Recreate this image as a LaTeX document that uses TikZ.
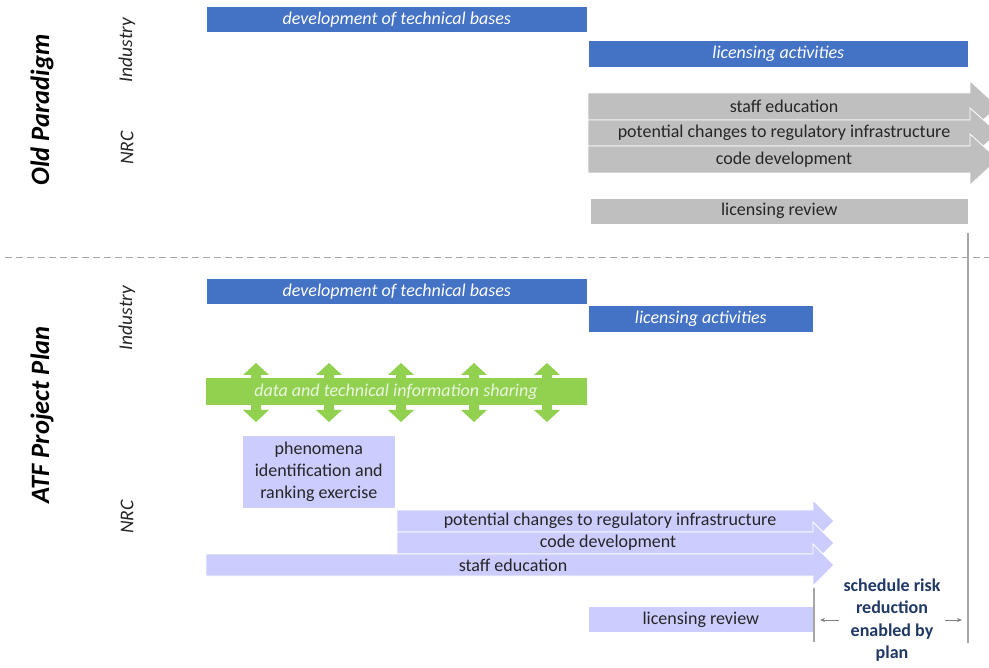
\documentclass[tikz,border=0pt]{standalone}
\usepackage{fontspec}
\setmainfont{Carlito}
\usetikzlibrary{arrows.meta}
\definecolor{bbar}{HTML}{4472C4}
\definecolor{gbar}{HTML}{BFBFBF}
\definecolor{grn}{HTML}{92D050}
\definecolor{lav}{HTML}{CCCCFF}
\definecolor{txt}{HTML}{262626}
\definecolor{navy}{HTML}{1F3864}
\definecolor{vline}{HTML}{A6A6A6}
\definecolor{gtxt}{HTML}{EAF5E0}
\begin{document}
\begin{tikzpicture}[x=1pt,y=-1pt,
  barfont/.style={font=\fontsize{18}{21}\selectfont},
  bluebar/.style={fill=bbar, draw=white, line width=0.6pt, text=white, font=\fontsize{18}{21}\selectfont\itshape, inner sep=0pt, anchor=north west},
  graybar/.style={barfont, fill=gbar, draw=white, line width=0.6pt, text=txt, inner sep=0pt, anchor=north west},
  lavbar/.style={barfont, fill=lav, draw=white, line width=0.6pt, text=txt, inner sep=0pt, anchor=north west},
  garrow/.style={fill=gbar, draw=white, line width=0.8pt},
  larrow/.style={fill=lav, draw=white, line width=0.8pt},
  arrtxt/.style={barfont, text=txt, inner sep=0pt},
  title/.style={rotate=90, font=\fontsize{26.5}{30}\selectfont\bfseries\itshape, text=black},
  lane/.style={rotate=90, font=\fontsize{19.5}{23}\selectfont\itshape, text=txt},
  sepline/.style={vline, line width=1.4pt}
]
\useasboundingbox (0,0) rectangle (989,668);
\clip (0,0) rectangle (989,668);

% ---------- Old paradigm ----------
\node[title] (oldt) at (42,110) {Old Paradigm};
\node[lane] (oind) at (127,50) {Industry};
\node[lane] (onrc) at (127,148) {NRC};

\node[bluebar, minimum width=381pt, minimum height=26pt] (odev) at (206,6) {development of technical bases};
\node[bluebar, minimum width=380pt, minimum height=27pt] (olic) at (588,40) {licensing activities};

\fill[garrow] (588,93) -- (970,93) -- (970,81) -- (998,106.5) -- (970,132) -- (970,120) -- (588,120) -- cycle;
\node[arrtxt] (ostaff) at (784,106.5) {staff education};
\fill[garrow] (588,120) -- (970,120) -- (970,108) -- (998,133) -- (970,158) -- (970,146) -- (588,146) -- cycle;
\node[arrtxt] (opot) at (784,133) {potential changes to regulatory infrastructure};
\fill[garrow] (588,146) -- (970,146) -- (970,134) -- (998,159.5) -- (970,185) -- (970,173) -- (588,173) -- cycle;
\node[arrtxt] (ocode) at (784,159.5) {code development};

\node[graybar, minimum width=378pt, minimum height=26pt] (orev) at (590,198) {licensing review};

% separator and timeline
\draw[vline, line width=1pt, dash pattern=on 7pt off 4pt] (5,258) -- (989,258);
\coordinate (vt) at (968,233);
\coordinate (vb) at (968,643);
\draw[sepline] (vt) -- (vb);

% ---------- ATF project plan ----------
\node[title] (atft) at (42,415) {ATF Project Plan};
\node[lane] (aind) at (127,318) {Industry};
\node[lane] (anrc) at (127,517) {NRC};

\node[bluebar, minimum width=381pt, minimum height=26pt] (adev) at (206,278) {development of technical bases};
\node[bluebar, minimum width=225pt, minimum height=27pt] (alic) at (588,305) {licensing activities};

% data sharing
\fill[grn] (206,378) rectangle (587,405);
\foreach \c in {256,329,401,474,547} {
  \fill[grn] (\c-5,375) -- (\c-13,375) -- (\c,363) -- (\c+13,375) -- (\c+5,375)
    -- (\c+5,410) -- (\c+13,410) -- (\c,422) -- (\c-13,410) -- (\c-5,410) -- cycle;
}
\node[font=\fontsize{18}{21}\selectfont\itshape, text=gtxt, inner sep=0pt] (share) at (396,391.5) {data and technical information sharing};

\node[lavbar, minimum width=153pt, minimum height=73pt, align=center, font=\fontsize{18}{22}\selectfont] (pirt) at (242,435) {phenomena\\identification and\\ranking exercise};

\fill[larrow] (397,510) -- (813,510) -- (813,500) -- (834,521) -- (813,542) -- (813,532) -- (397,532) -- cycle;
\node[arrtxt] (apot) at (610,521) {potential changes to regulatory infrastructure};
\fill[larrow] (397,532) -- (813,532) -- (813,522) -- (834,543) -- (813,564) -- (813,554) -- (397,554) -- cycle;
\node[arrtxt] (acode) at (608,543) {code development};
\fill[larrow] (206,554) -- (813,554) -- (813,544) -- (834,565) -- (813,586) -- (813,576) -- (206,576) -- cycle;
\node[arrtxt] (astaff) at (513,565) {staff education};

\node[lavbar, minimum width=225pt, minimum height=26pt] (arev) at (588,606) {licensing review};

\coordinate (lt) at (814,588);
\coordinate (lb) at (814,642);
\draw[sepline] (lt) -- (lb);

\node[font=\fontsize{18}{22.3}\selectfont\bfseries, text=navy, align=center, inner sep=1pt] (sched) at (892,620) {schedule risk\\reduction\\enabled by\\plan};
\coordinate (sl) at (820,620);
\coordinate (sr) at (962,620);
\draw[gray, line width=0.8pt, -{Stealth[length=5pt,width=4pt]}] (sched.west) ++(-3,0) -- (sl);
\draw[gray, line width=0.8pt, -{Stealth[length=5pt,width=4pt]}] (sched.east) ++(3,0) -- (sr);
\end{tikzpicture}
\end{document}
